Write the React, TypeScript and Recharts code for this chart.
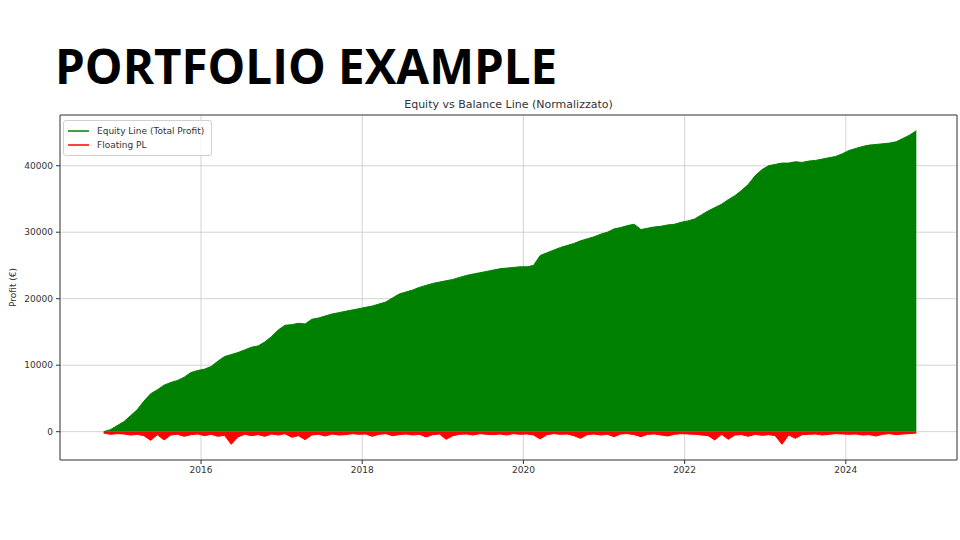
import { ComposedChart, Area, XAxis, YAxis, CartesianGrid, Legend, ReferenceArea, Label } from 'recharts'

// monthly samples, first one is Oct 2014
const firstYear = 2014
const firstMonth = 10

const equity = [
  0, 300, 900,
  1500, 2400, 3300, 4600, 5700, 6300, 7000, 7400, 7700, 8200, 8900, 9200,
  9400, 9800, 10600, 11300, 11600, 11900, 12300, 12700, 12900, 13500, 14300, 15300,
  16000, 16100, 16300, 16200, 16900, 17100, 17400, 17700, 17900, 18100, 18300, 18500,
  18700, 18900, 19200, 19500, 20100, 20700, 21000, 21300, 21700, 22000, 22300, 22500,
  22700, 22900, 23200, 23500, 23700, 23900, 24100, 24300, 24500, 24600, 24700, 24800,
  24800, 25000, 26500, 26900, 27300, 27700, 28000, 28300, 28700, 29000, 29300, 29700,
  30000, 30500, 30700, 31000, 31200, 30400, 30600, 30800, 30900, 31100, 31200, 31500,
  31700, 32000, 32600, 33200, 33700, 34200, 34900, 35500, 36300, 37200, 38500, 39400,
  40000, 40200, 40400, 40400, 40600, 40500, 40700, 40800, 41000, 41200, 41400, 41800,
  42300, 42600, 42900, 43100, 43200, 43300, 43400, 43600, 44100, 44600, 45270,
]

const floating = [
  -200, -400, -300,
  -350, -500, -400, -600, -1300, -450, -1250, -500, -400, -700, -450, -350,
  -600, -400, -700, -550, -1900, -800, -400, -600, -450, -700, -350, -500,
  -300, -850, -600, -1200, -500, -400, -650, -350, -500, -450, -300, -400,
  -350, -700, -400, -300, -600, -450, -350, -500, -400, -800, -450, -350,
  -1150, -600, -400, -350, -500, -300, -400, -450, -350, -500, -300, -400,
  -350, -500, -1100, -450, -300, -400, -350, -600, -1000, -450, -350, -500,
  -400, -750, -350, -300, -450, -750, -400, -350, -500, -650, -400, -300,
  -350, -400, -500, -600, -1250, -400, -1150, -500, -450, -700, -400, -550,
  -450, -600, -1900, -500, -1000, -450, -400, -350, -500, -400, -300, -350,
  -400, -350, -500, -450, -650, -400, -300, -450, -350, -300, -200,
]

const xTicks = [2016, 2018, 2020, 2022, 2024]
const yTicks = [0, 10000, 20000, 30000, 40000]
const X_DOMAIN = [2014.25, 2025.38]
const Y_DOMAIN = [-4260, 47630]

const data = equity.map((v, i) => ({
  t: firstYear + (firstMonth - 1 + i + 0.5) / 12,
  equity: v,
  floating: floating[i],
}))

const tickStyle = { fontFamily: 'DejaVu Sans', fontSize: 9, fill: '#333' }

function LegendBox() {
  const items = [
    { label: 'Equity Line (Total Profit)', color: '#008000' },
    { label: 'Floating PL', color: '#ff0000' },
  ]
  return (
    <div
      style={{
        border: '1px solid #d0d0d0',
        borderRadius: 3,
        background: 'rgba(255,255,255,0.8)',
        padding: '3px 7px 3px 4px',
        fontFamily: 'DejaVu Sans',
        fontSize: 9,
        color: '#333',
        lineHeight: '14px',
      }}
    >
      {items.map((it) => (
        <div key={it.label} style={{ display: 'flex', alignItems: 'center' }}>
          <span style={{ display: 'inline-block', width: 21, height: 1.5, background: it.color, opacity: 0.75, marginRight: 8 }} />
          {it.label}
        </div>
      ))}
    </div>
  )
}

export default function App() {
  return (
    <div style={{ position: 'absolute', left: 0, top: 0, width: 960, height: 540, background: '#fff' }}>
      <div
        style={{
          position: 'absolute',
          left: 55,
          top: 42,
          fontFamily: 'Open Sans',
          fontWeight: 700,
          fontSize: 47.5,
          lineHeight: '48px',
          color: '#000',
        }}
      >
        PORTFOLIO EXAMPLE
      </div>
      <div
        style={{
          position: 'absolute',
          left: 60,
          width: 897,
          top: 98,
          textAlign: 'center',
          fontFamily: 'DejaVu Sans',
          fontSize: 11,
          color: '#333',
        }}
      >
        Equity vs Balance Line (Normalizzato)
      </div>
      <ComposedChart width={960} height={540} data={data} margin={{ top: 115, right: 3, bottom: 50, left: 0 }}>
        <CartesianGrid stroke="#c8c8c8" strokeWidth={0.8} />
        <XAxis
          dataKey="t"
          type="number"
          domain={X_DOMAIN}
          ticks={xTicks}
          allowDataOverflow
          height={30}
          tick={tickStyle}
          tickSize={4}
          tickMargin={3}
          stroke="#333"
          axisLine={false}
        />
        <YAxis
          type="number"
          domain={Y_DOMAIN}
          ticks={yTicks}
          allowDataOverflow
          width={60}
          tick={tickStyle}
          tickSize={4}
          tickMargin={3}
          stroke="#333"
          axisLine={false}
        >
          <Label
            value="Profit (€)"
            angle={-90}
            position="insideLeft"
            offset={13}
            style={{ textAnchor: 'middle', fontFamily: 'DejaVu Sans', fontSize: 9, fill: '#333' }}
          />
        </YAxis>
        <Area
          type="linear"
          dataKey="equity"
          baseValue={0}
          stroke="#008000"
          strokeWidth={1}
          fill="#008000"
          fillOpacity={1}
          dot={false}
          activeDot={false}
          isAnimationActive={false}
        />
        <Area
          type="linear"
          dataKey="floating"
          baseValue={0}
          stroke="#ff0000"
          strokeWidth={1}
          fill="#ff0000"
          fillOpacity={1}
          dot={false}
          activeDot={false}
          isAnimationActive={false}
        />
        <ReferenceArea
          x1={X_DOMAIN[0]}
          x2={X_DOMAIN[1]}
          y1={Y_DOMAIN[0]}
          y2={Y_DOMAIN[1]}
          fill="none"
          stroke="#444"
          strokeWidth={1}
          ifOverflow="visible"
        />
        <Legend
          layout="vertical"
          align="center"
          verticalAlign="middle"
          content={() => <LegendBox />}
          wrapperStyle={{ left: 63, top: 120, width: 'auto', height: 'auto' }}
        />
      </ComposedChart>
    </div>
  )
}
